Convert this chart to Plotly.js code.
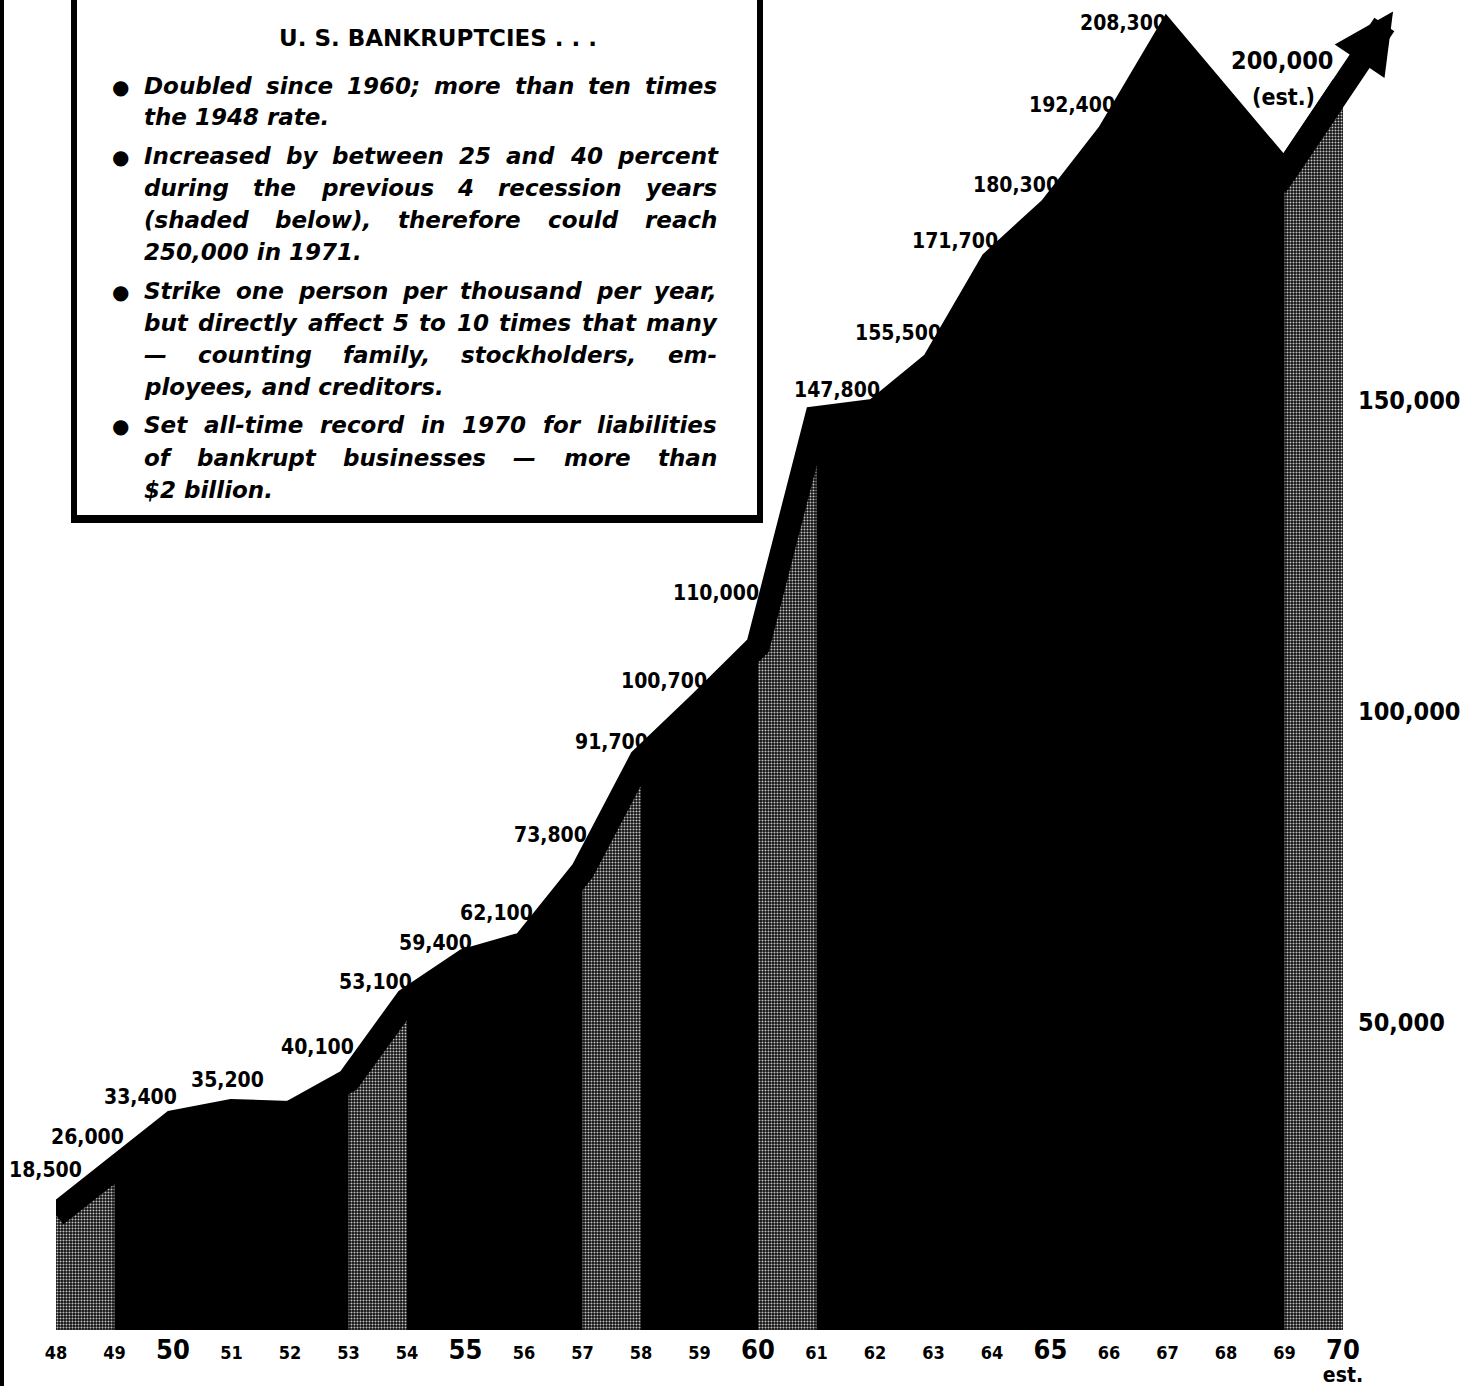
<!DOCTYPE html>
<html>
<head>
<meta charset="utf-8">
<script src="https://cdn.plot.ly/plotly-3.0.1.min.js"></script>
<style>
  html, body { margin: 0; padding: 0; background: #ffffff; }
  #chart { width: 1461px; height: 1386px; }
</style>
</head>
<body>
<div id="chart"></div>
<script>
// ---------------- DATA ----------------
const years = [48, 49, 50, 51, 52, 53, 54, 55, 56, 57, 58, 59, 60, 61, 62, 63, 64, 65, 66, 67, 68, 69, 70];
const bankruptcies = [18500, 26000, 33400, 35200, 34900, 40100, 53100, 59400, 62100, 73800, 91700, 100700,
                      110000, 146600, 147800, 155500, 171700, 180300, 192400, 208300, 197000, 186000, 200000];
const valueLabels = ['18,500', '26,000', '33,400', '35,200', '', '40,100', '53,100', '59,400', '62,100', '73,800',
                     '91,700', '100,700', '110,000', '', '147,800', '155,500', '171,700', '180,300', '192,400',
                     '208,300', '', '', '200,000'];
const estimateNote = '(est.)';
const recessionBands = [[48, 49], [53, 54], [57, 58], [60, 61], [69, 70]];
const yearTickLabels = ['48', '49', '50', '51', '52', '53', '54', '55', '56', '57', '58', '59', '60', '61', '62',
                        '63', '64', '65', '66', '67', '68', '69', '70'];
const majorYears = [50, 55, 60, 65, 70];
const estimateYear = 70;
const estimateTickSuffix = 'est.';
const yTickValues = [50000, 100000, 150000];
const yTickLabels = ['50,000', '100,000', '150,000'];

const boxTitle = 'U. S. BANKRUPTCIES . . .';
const bulletPoints = [
  ['Doubled since 1960; more than ten times',
   'the 1948 rate.'],
  ['Increased by between 25 and 40 percent',
   'during the previous 4 recession years',
   '(shaded below), therefore could reach',
   '250,000 in 1971.'],
  ['Strike one person per thousand per year,',
   'but directly affect 5 to 10 times that many',
   '\u2014 counting family, stockholders, em-',
   'ployees, and creditors.'],
  ['Set all-time record in 1970 for liabilities',
   'of bankrupt businesses \u2014 more than',
   '$2 billion.']
];

// ---------------- LAYOUT HELPERS ----------------
const FIG_W = 1461, FIG_H = 1386;
const M = { l: 56, r: 118, t: 0, b: 56 };
const PW = FIG_W - M.l - M.r, PH = FIG_H - M.t - M.b;
const PX_PER_UNIT = 0.00622;
const Y_MAX = PH / PX_PER_UNIT;
const X_MIN = 48, X_MAX = 70;
const px2paperX = px => (px - M.l) / PW;
const py2paperY = py => (M.t + PH - py) / PH;
const dataToPx = (x, y) => [M.l + (x - X_MIN) / (X_MAX - X_MIN) * PW, M.t + PH - y * PX_PER_UNIT];

const CONDENSED = 'DejaVu Sans Condensed, DejaVu Sans, sans-serif';
const VALUE_FONT = { family: CONDENSED, size: 21, weight: 'bold', color: '#000' };
const BODY_SIZE = 23;
const BODY_FONT = { family: 'DejaVu Sans', size: BODY_SIZE, weight: 'bold', style: 'italic', color: '#000' };
const CURVE_WIDTH = 24;

// label offsets (pixels) relative to their data point, keyed by year
const labelShift = {
  48: [-11, 45], 49: [-27, 31], 50: [-33, 25], 51: [-4, 31], 53: [-31, 34], 54: [-32, 18],
  55: [-30, 18], 56: [-28, 31], 57: [-32, 36], 58: [-30, 18], 59: [-36, 23], 60: [-42, 53],
  62: [-38, 21], 63: [-36, 30], 64: [-37, 21], 65: [-35, 24], 66: [-37, 28], 67: [-45, 11],
  70: [-61, 26]
};

// ---------------- TRACES ----------------
const traces = [];
traces.push({
  x: years, y: bankruptcies, type: 'scatter', mode: 'lines',
  fill: 'tozeroy', fillcolor: '#000000', line: { width: 0, color: '#000' },
  hoverinfo: 'skip', showlegend: false
});
recessionBands.forEach(b => {
  const i0 = years.indexOf(b[0]), i1 = years.indexOf(b[1]);
  traces.push({
    x: years.slice(i0, i1 + 1), y: bankruptcies.slice(i0, i1 + 1), type: 'scatter', mode: 'lines',
    fill: 'tozeroy', fillcolor: '#555555',
    fillpattern: { shape: '.', bgcolor: '#101010', fgcolor: '#c4c4c4', size: 3, solidity: 0.36 },
    line: { width: 0, color: '#000' }, hoverinfo: 'skip', showlegend: false
  });
});
traces.push({
  x: years, y: bankruptcies, type: 'scatter', mode: 'lines',
  line: { width: CURVE_WIDTH, color: '#000' }, hoverinfo: 'skip', showlegend: false
});

// ---------------- ANNOTATIONS ----------------
const annotations = [];
years.forEach((yr, i) => {
  if (!valueLabels[i]) return;
  const s = labelShift[yr] || [-35, 25];
  annotations.push({
    x: yr, y: bankruptcies[i], xref: 'x', yref: 'y', text: valueLabels[i], showarrow: false,
    xanchor: 'center', yanchor: 'middle', xshift: s[0], yshift: s[1],
    font: yr === estimateYear ? Object.assign({}, VALUE_FONT, { size: 25 }) : VALUE_FONT
  });
});
{
  const i = years.indexOf(estimateYear);
  annotations.push({
    x: estimateYear, y: bankruptcies[i], xref: 'x', yref: 'y', text: estimateNote, showarrow: false,
    xanchor: 'center', yanchor: 'middle', xshift: -60, yshift: -11,
    font: Object.assign({}, VALUE_FONT, { size: 23 })
  });
}
// arrow continuing the last (estimated) segment beyond the chart
{
  const iA = years.indexOf(69), iB = years.indexOf(estimateYear);
  const pA = dataToPx(years[iA], bankruptcies[iA]);
  const pB = dataToPx(years[iB], bankruptcies[iB]);
  const tipY = 10;
  const t = (pA[1] - tipY) / (pA[1] - pB[1]);
  const tip = [pA[0] + (pB[0] - pA[0]) * t, tipY];
  annotations.push({
    x: years[iA], y: bankruptcies[iA], xref: 'x', yref: 'y', text: '', showarrow: true,
    ax: tip[0] - pA[0], ay: tip[1] - pA[1], axref: 'pixel', ayref: 'pixel',
    arrowside: 'start', startarrowhead: 2, startarrowsize: 0.5, arrowhead: 2,
    arrowwidth: CURVE_WIDTH, arrowcolor: '#000', standoff: 0, startstandoff: 0
  });
}

// text box
annotations.push({
  xref: 'paper', yref: 'paper', x: px2paperX(438), y: py2paperY(38), text: boxTitle, showarrow: false,
  xanchor: 'center', yanchor: 'middle',
  font: { family: 'DejaVu Sans', size: 23, weight: 'bold', color: '#000' }
});
const lineYs = [[86, 117], [156, 188, 220, 252], [291, 323, 355, 387], [425, 458, 490]];
const TXT_L = 143, TXT_R = 716;
const cvs = document.createElement('canvas');
const ctx = cvs.getContext('2d');
ctx.font = 'italic bold ' + BODY_SIZE + 'px "DejaVu Sans"';
const spaceW = ctx.measureText(' ').width;
function textAnn(t, px, py) {
  return {
    xref: 'paper', yref: 'paper', x: px2paperX(px), y: py2paperY(py), text: t, showarrow: false,
    xanchor: 'left', yanchor: 'middle', borderpad: 0, font: BODY_FONT
  };
}
bulletPoints.forEach((para, pi) => {
  annotations.push({
    xref: 'paper', yref: 'paper', x: px2paperX(120), y: py2paperY(lineYs[pi][0] + 1), text: '\u25CF',
    showarrow: false, xanchor: 'center', yanchor: 'middle',
    font: { family: 'DejaVu Sans', size: 20, color: '#000' }
  });
  para.forEach((line, li) => {
    const y = lineYs[pi][li];
    if (li === para.length - 1) {
      annotations.push(textAnn(line, TXT_L, y));
      return;
    }
    const words = line.split(' ');
    const ws = words.map(w => ctx.measureText(w).width);
    const total = ws.reduce((a, b) => a + b, 0);
    let gap = (TXT_R - TXT_L - total) / (words.length - 1);
    if (gap < spaceW * 0.6) gap = spaceW * 0.6;
    let x = TXT_L;
    words.forEach((w, k) => { annotations.push(textAnn(w, x, y)); x += ws[k] + gap; });
  });
});

// ---------------- SHAPES ----------------
const shapes = [
  { type: 'rect', xref: 'paper', yref: 'paper', x0: px2paperX(74), x1: px2paperX(760),
    y0: py2paperY(518), y1: py2paperY(-20), fillcolor: '#fff', line: { color: '#000', width: 6 }, layer: 'above' },
  { type: 'line', xref: 'paper', yref: 'paper', x0: px2paperX(71), x1: px2paperX(763),
    y0: py2paperY(521), y1: py2paperY(521), line: { color: '#000', width: 4 }, layer: 'above' },
  { type: 'rect', xref: 'paper', yref: 'paper', x0: px2paperX(0), x1: px2paperX(4),
    y0: py2paperY(FIG_H), y1: py2paperY(0), fillcolor: '#000', line: { width: 0 }, layer: 'above' }
];

// ---------------- AXES ----------------
const xTickText = yearTickLabels.map((t, i) => {
  const yr = years[i];
  if (yr === estimateYear) {
    return '<span style="font-size:27px">' + t + '</span><br><span style="font-size:21px">' + estimateTickSuffix + '</span>';
  }
  if (majorYears.indexOf(yr) >= 0) return '<span style="font-size:27px">' + t + '</span>';
  return t;
});

const layout = {
  width: FIG_W, height: FIG_H,
  margin: { l: M.l, r: M.r, t: M.t, b: M.b, pad: 0 },
  paper_bgcolor: '#ffffff', plot_bgcolor: '#ffffff',
  showlegend: false,
  xaxis: {
    range: [X_MIN, X_MAX], tickmode: 'array', tickvals: years, ticktext: xTickText,
    tickfont: { family: CONDENSED, size: 18, weight: 'bold', color: '#000' },
    ticks: '', showgrid: false, zeroline: false, showline: false, ticklabelstandoff: 10, fixedrange: true
  },
  yaxis: {
    range: [0, Y_MAX], side: 'right', tickmode: 'array', tickvals: yTickValues, ticktext: yTickLabels,
    tickfont: { family: CONDENSED, size: 25, weight: 'bold', color: '#000' },
    ticks: '', showgrid: false, zeroline: false, showline: false, ticklabelstandoff: 14,
    ticklabelshift: 3, fixedrange: true
  },
  annotations: annotations,
  shapes: shapes
};

Plotly.newPlot('chart', traces, layout, { displayModeBar: false, staticPlot: true });
</script>
</body>
</html>
